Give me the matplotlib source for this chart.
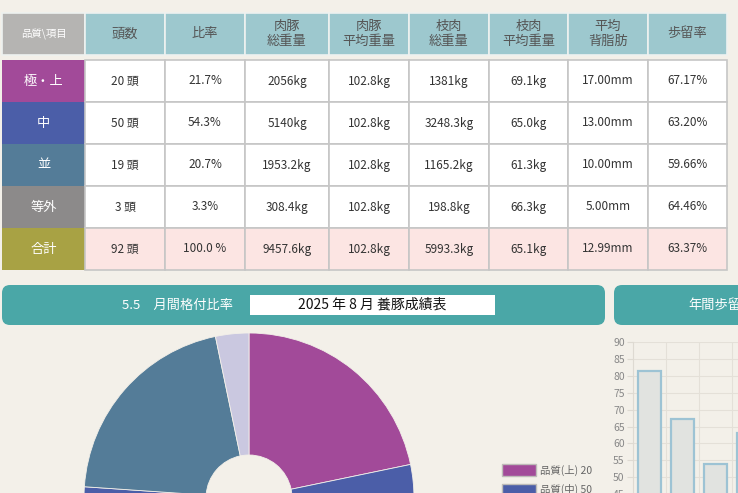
import numpy as np
import matplotlib
matplotlib.use('Agg')
import matplotlib.pyplot as plt
from matplotlib.patches import Rectangle, FancyBboxPatch

plt.rcParams['font.family'] = ['Noto Sans CJK JP', 'DejaVu Sans']

# ---- data ----
headers = ['品質\\項目', '頭数', '比率', '肉豚\n総重量', '肉豚\n平均重量', '枝肉\n総重量',
           '枝肉\n平均重量', '平均\n背脂肪', '歩留率']
grades = ['極・上', '中', '並', '等外', '合計']
head_count = [20, 50, 19, 3, 92]
ratio = ['21.7%', '54.3%', '20.7%', '3.3%', '100.0 %']
pork_total = [2056, 5140, 1953.2, 308.4, 9457.6]
pork_avg = [102.8, 102.8, 102.8, 102.8, 102.8]
carcass_total = [1381, 3248.3, 1165.2, 198.8, 5993.3]
carcass_avg = [69.1, 65.0, 61.3, 66.3, 65.1]
backfat = [17.00, 13.00, 10.00, 5.00, 12.99]
yield_rate = [67.17, 63.20, 59.66, 64.46, 63.37]

pie_labels = ['品質(上)', '品質(中)', '品質(並)', '品質(等外)']
pie_values = [20, 50, 19, 3]

yield_months = ['1月', '2月', '3月', '4月']
yield_values = [81.6, 67.3, 53.9, 63.2]

title_left = '5.5　月間格付比率'
title_box = '2025 年 8 月 養豚成績表'
title_right = '年間歩留率'

# ---- styles ----
bg = '#F3F0E9'
grade_colors = ['#A24A99', '#4B5EA8', '#547C98', '#8C8A8A', '#A8A244']
pie_colors = ['#A24A99', '#4B5EA8', '#547C98', '#CAC8E0']
teal_head = '#9DC8CE'
teal_panel = '#4AA7A7'
txt = '#333333'

W, H = 738, 493
fig = plt.figure(figsize=(W / 100, H / 100), dpi=100, facecolor=bg)
ax = fig.add_axes([0, 0, 1, 1])
ax.set_xlim(0, W)
ax.set_ylim(H, 0)
ax.axis('off')

# ---- table ----
col_x = [2, 85, 165, 245, 329, 409, 489, 568, 648, 727]
head_top, head_bot = 13, 55
row_top, row_h = 60, 42

for j, h in enumerate(headers):
    x0, x1 = col_x[j], col_x[j + 1]
    fc = '#B5B4B2' if j == 0 else teal_head
    ax.add_patch(Rectangle((x0, head_top), x1 - x0, head_bot - head_top,
                           facecolor=fc, edgecolor='#EEF2F0', lw=1.2))
    ax.text((x0 + x1) / 2, (head_top + head_bot) / 2, h,
            ha='center', va='center', linespacing=1.25,
            fontsize=7.5 if j == 0 else 9.5,
            color='white' if j == 0 else '#555555')

cells = []
for i in range(len(grades)):
    last = i == len(grades) - 1
    cells.append([
        f'{head_count[i]} 頭',
        ratio[i],
        f'{pork_total[i]:g}kg',
        f'{pork_avg[i]:.1f}kg',
        f'{carcass_total[i]:g}kg',
        f'{carcass_avg[i]:.1f}kg',
        f'{backfat[i]:.2f}mm',
        f'{yield_rate[i]:.2f}%',
    ])

for i, g in enumerate(grades):
    y0 = row_top + i * row_h
    ax.add_patch(Rectangle((col_x[0], y0), col_x[1] - col_x[0], row_h,
                           facecolor=grade_colors[i], edgecolor='none'))
    ax.text((col_x[0] + col_x[1]) / 2, y0 + row_h / 2, g, ha='center', va='center',
            fontsize=9.5, color='white')
    fc = '#FCE5E3' if i == len(grades) - 1 else 'white'
    for j, c in enumerate(cells[i]):
        x0, x1 = col_x[j + 1], col_x[j + 2]
        ax.add_patch(Rectangle((x0, y0), x1 - x0, row_h, facecolor=fc,
                               edgecolor='#C6C6C6', lw=1.2))
        ax.text((x0 + x1) / 2, y0 + row_h / 2, c, ha='center', va='center',
                fontsize=8.5, color=txt)

# ---- panel headers ----
ax.add_patch(FancyBboxPatch((2, 285), 603, 40, boxstyle='round,pad=0,rounding_size=8',
                            facecolor=teal_panel, edgecolor='none'))
ax.text(177, 305, title_left, ha='center', va='center', fontsize=9.5, color='white')
ax.add_patch(Rectangle((250, 295), 245, 20, facecolor='white', edgecolor='none'))
ax.text(372, 305, title_box, ha='center', va='center', fontsize=10, color='#111111')

ax.add_patch(FancyBboxPatch((614, 285), 160, 40, boxstyle='round,pad=0,rounding_size=8',
                            facecolor=teal_panel, edgecolor='none'))
ax.text(688, 305, title_right, ha='left', va='center', fontsize=9.5, color='white')

# ---- legend of pie ----
for k, (lab, v) in enumerate(zip(pie_labels, pie_values)):
    y0 = 464 + k * 19.5
    ax.add_patch(Rectangle((502, y0), 34, 12, facecolor=pie_colors[k],
                           edgecolor='#BDBBB8', lw=1))
    ax.text(540, y0 + 6, f'{lab} {v}', ha='left', va='center', fontsize=7.5,
            color='#666666')

# ---- donut ----
r_px = 165
cx, cy = 249, 498
pl, pr, pt = 79, 419, 328
ax_pie = fig.add_axes([pl / W, 0, (pr - pl) / W, (H - pt) / H])
ax_pie.pie(pie_values, colors=pie_colors, startangle=90, counterclock=False,
           radius=1, wedgeprops=dict(width=1 - 43 / r_px, edgecolor='#F3F0E9', lw=0.6),
           frame=True)
ax_pie.set_xlim((pl - cx) / r_px, (pr - cx) / r_px)
ax_pie.set_ylim((cy - H) / r_px, (cy - pt) / r_px)
ax_pie.set_aspect('auto')
ax_pie.axis('off')

# ---- yield bars ----
px_per = 3.37
y_top_px = 342.3
y_min = 45
bot_px = y_top_px + (90 - y_min) * px_per
ax_bar = fig.add_axes([633 / W, (H - bot_px) / H, 33 * len(yield_values) / W,
                       (bot_px - y_top_px) / H])
ax_bar.set_facecolor('none')
xs = np.arange(len(yield_values))
ax_bar.bar(xs, yield_values, width=0.7, color='#E1E3E0', edgecolor='#9DC3D4', lw=1.6)
ax_bar.set_xlim(-0.5, len(yield_values) - 0.5)
ax_bar.set_ylim(y_min, 90)
ax_bar.set_yticks(np.arange(45, 91, 5))
ax_bar.set_xticks(xs + 0.5, minor=False)
ax_bar.set_xticklabels([])
ax_bar.tick_params(axis='x', length=0)
ax_bar.tick_params(axis='y', length=4, color='#DEDAD2', labelsize=7.5,
                   labelcolor='#888888', pad=2)
ax_bar.grid(True, color='#E4E0D8', lw=0.8)
ax_bar.set_axisbelow(True)
for s in ['top', 'right', 'bottom']:
    ax_bar.spines[s].set_visible(False)
ax_bar.spines['left'].set_color('#DEDAD2')

fig.savefig('out.png', dpi=100, facecolor=bg)
